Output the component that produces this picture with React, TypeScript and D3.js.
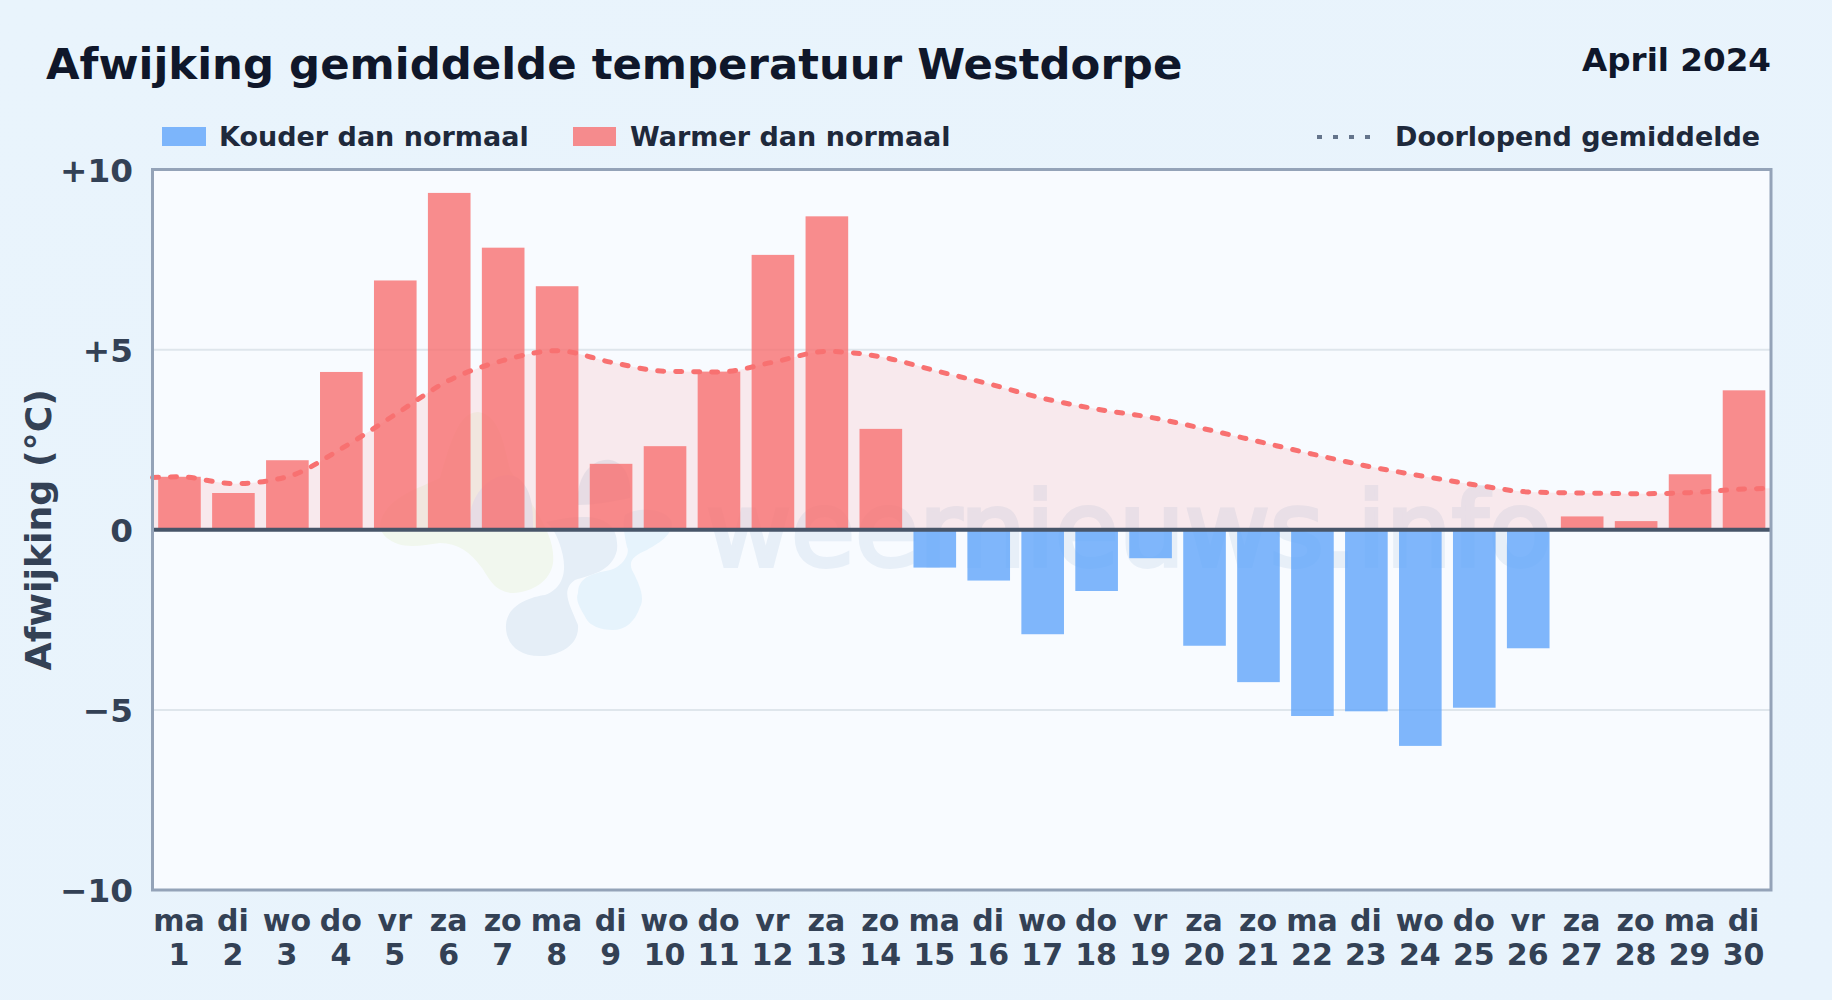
import React, { useEffect, useRef } from 'react'
import * as d3 from 'd3'

const weekdays = ['ma', 'di', 'wo', 'do', 'vr', 'za', 'zo', 'ma', 'di', 'wo', 'do', 'vr', 'za', 'zo', 'ma', 'di', 'wo', 'do', 'vr', 'za', 'zo', 'ma', 'di', 'wo', 'do', 'vr', 'za', 'zo', 'ma', 'di']
const days = d3.range(1, 31)
const anomaly = [1.47, 1.02, 1.93, 4.38, 6.92, 9.35, 7.83, 6.76, 1.83, 2.32, 4.39, 7.63, 8.7, 2.8, -1.05, -1.41, -2.9, -1.7, -0.79, -3.22, -4.23, -5.17, -5.04, -6.0, -4.94, -3.29, 0.37, 0.24, 1.54, 3.87]
const runningMean = [1.47, 1.28, 1.47, 2.25, 3.2, 4.15, 4.7, 4.97, 4.65, 4.4, 4.38, 4.65, 4.95, 4.8, 4.42, 4.05, 3.65, 3.35, 3.12, 2.8, 2.45, 2.1, 1.77, 1.5, 1.25, 1.05, 1.02, 1.0, 1.03, 1.13]
const edgeMean = [1.45, 1.15]
const yTicks = [-10, -5, 0, 5, 10]

const WIDTH = 1832
const HEIGHT = 1000
const margin = { top: 169.5, right: 61, bottom: 110, left: 152.5 }

// faint logo behind the plot
const logoBlobs: [string, string][] = [
  ['#f1f7ee', 'M380 525 C384 498 420 488 440 478 C450 445 458 412 478 412 C500 414 505 450 510 470 C535 510 556 535 553 563 C550 582 532 592 513 593 C495 592 490 580 482 568 C470 552 458 543 440 543 C425 545 410 548 398 544 C390 541 380 535 380 525 Z'],
  ['#e5eef7', 'M546 522 C590 512 620 515 617 550 C612 572 590 575 575 580 C560 590 570 605 578 625 C580 650 550 657 540 656 C515 656 505 640 506 625 C507 605 530 597 545 595 C570 585 565 560 560 545 C555 530 550 525 546 522 Z'],
  ['#e6f3fc', 'M625 515 C640 505 672 510 672 525 C670 538 655 545 647 550 C635 555 628 560 632 570 C640 585 645 598 640 607 C635 622 625 630 613 630 C600 630 590 625 587 620 C580 608 575 600 578 593 C578 585 582 580 587 577 C600 570 610 572 617 567 C625 562 630 552 627 547 C625 538 622 525 625 515 Z'],
  ['#e5ecf5', 'M470 530 C465 492 498 466 518 478 C534 490 533 515 533 530 Z'],
  ['#e5ecf5', 'M578 505 C575 480 590 458 610 460 C625 462 632 480 630 498 C610 502 595 505 578 505 Z'],
]

const tickLabel = (v: number) => (v > 0 ? `+${v}` : v < 0 ? `\u2212${-v}` : '0')

export default function App() {
  const svgRef = useRef<SVGSVGElement>(null)

  useEffect(() => {
    if (!svgRef.current) return
    const svg = d3.select(svgRef.current)
    svg.selectAll('*').remove()

    const x0 = margin.left
    const x1 = WIDTH - margin.right
    const y0 = HEIGHT - margin.bottom
    const y1 = margin.top

    const x = d3.scaleBand<number>().domain(days).range([x0, x1]).paddingInner(0.21).paddingOuter(0.105)
    const bandMid = (d: number) => (x(d) as number) + x.bandwidth() / 2
    const y = d3.scaleLinear().domain([-10, 10]).range([y0, y1])

    const defs = svg.append('defs')
    const grad = defs.append('linearGradient').attr('id', 'pageBg').attr('x1', 0).attr('y1', 0).attr('x2', 1).attr('y2', 1)
    grad.append('stop').attr('offset', '0%').attr('stop-color', '#e9f4fc')
    grad.append('stop').attr('offset', '100%').attr('stop-color', '#e8f3fc')
    defs.append('clipPath').attr('id', 'plotClip').append('rect').attr('x', x0).attr('y', y1).attr('width', x1 - x0).attr('height', y0 - y1)

    svg.append('rect').attr('width', WIDTH).attr('height', HEIGHT).attr('fill', 'url(#pageBg)')
    svg.append('rect').attr('x', x0).attr('y', y1).attr('width', x1 - x0).attr('height', y0 - y1).attr('fill', '#f8fbff')

    const font = "'DejaVu Sans', sans-serif"

    // watermark logo
    svg
      .append('g')
      .attr('clip-path', 'url(#plotClip)')
      .selectAll('path')
      .data(logoBlobs)
      .enter()
      .append('path')
      .attr('fill', (d) => d[0])
      .attr('d', (d) => d[1])

    // watermark text
    svg
      .append('text')
      .attr('x', 706)
      .attr('y', 566)
      .attr('font-family', font)
      .attr('font-size', 104)
      .attr('fill', '#e7eff8')
      .attr('stroke', '#e7eff8')
      .attr('stroke-width', 4)
      .text('weernieuws.info')

    // gridlines
    svg
      .append('g')
      .selectAll('line')
      .data(yTicks.filter((t) => t !== 0 && Math.abs(t) !== 10))
      .enter()
      .append('line')
      .attr('x1', x0)
      .attr('x2', x1)
      .attr('y1', (d) => y(d))
      .attr('y2', (d) => y(d))
      .attr('stroke', '#dfe6ec')
      .attr('stroke-width', 2)

    // running mean, with the curve carried out to the plot edges
    const linePts: [number, number][] = [
      [x0, edgeMean[0]],
      ...days.map((d, i) => [bandMid(d), runningMean[i]] as [number, number]),
      [x1, edgeMean[1]],
    ]
    const area = d3
      .area<[number, number]>()
      .x((d) => d[0])
      .y0(y(0))
      .y1((d) => y(d[1]))
      .curve(d3.curveMonotoneX)
    svg.append('path').attr('d', area(linePts)).attr('fill', '#f87171').attr('opacity', 0.13)

    // bars
    svg
      .append('g')
      .selectAll('rect')
      .data(days)
      .enter()
      .append('rect')
      .attr('x', (d) => x(d) as number)
      .attr('width', x.bandwidth())
      .attr('y', (d, i) => y(Math.max(anomaly[i], 0)))
      .attr('height', (d, i) => Math.abs(y(anomaly[i]) - y(0)))
      .attr('fill', (d, i) => (anomaly[i] < 0 ? '#60a5fa' : '#f87171'))
      .attr('opacity', 0.8)

    const line = d3
      .line<[number, number]>()
      .x((d) => d[0])
      .y((d) => y(d[1]))
      .curve(d3.curveMonotoneX)
    svg
      .append('path')
      .attr('d', line(linePts))
      .attr('fill', 'none')
      .attr('stroke', '#f87171')
      .attr('stroke-width', 5)
      .attr('stroke-linecap', 'round')
      .attr('stroke-dasharray', '6 12')

    // zero line and frame
    svg.append('line').attr('x1', x0).attr('x2', x1).attr('y1', y(0)).attr('y2', y(0)).attr('stroke', '#475569').attr('stroke-width', 4)
    svg.append('rect').attr('x', x0).attr('y', y1).attr('width', x1 - x0).attr('height', y0 - y1).attr('fill', 'none').attr('stroke', '#94a3b8').attr('stroke-width', 3)

    // y tick labels
    svg
      .append('g')
      .selectAll('text')
      .data(yTicks)
      .enter()
      .append('text')
      .attr('x', 133)
      .attr('y', (d) => y(d) + 12)
      .attr('text-anchor', 'end')
      .attr('font-family', font)
      .attr('font-weight', 700)
      .attr('font-size', 32.7)
      .attr('fill', '#334155')
      .text((d) => tickLabel(d))

    // x tick labels, weekday above day number
    const xt = svg.append('g').selectAll('g').data(days).enter().append('g')
    xt.append('text')
      .attr('x', (d) => bandMid(d) - 0.5)
      .attr('y', 931)
      .attr('text-anchor', 'middle')
      .attr('font-family', font)
      .attr('font-weight', 700)
      .attr('font-size', 30)
      .attr('fill', '#334155')
      .text((d, i) => weekdays[i])
    xt.append('text')
      .attr('x', (d) => bandMid(d) - 0.5)
      .attr('y', 965)
      .attr('text-anchor', 'middle')
      .attr('font-family', font)
      .attr('font-weight', 700)
      .attr('font-size', 30)
      .attr('fill', '#334155')
      .text((d) => d)

    // axis title
    svg
      .append('text')
      .attr('transform', `translate(51,${(y0 + y1) / 2}) rotate(-90)`)
      .attr('text-anchor', 'middle')
      .attr('font-family', font)
      .attr('font-weight', 700)
      .attr('font-size', 36.3)
      .attr('fill', '#334155')
      .text('Afwijking (°C)')

    // titles
    svg.append('text').attr('x', 46).attr('y', 79).attr('font-family', font).attr('font-weight', 700).attr('font-size', 43.4).attr('fill', '#0f172a').text('Afwijking gemiddelde temperatuur Westdorpe')
    svg.append('text').attr('x', 1771).attr('y', 71).attr('text-anchor', 'end').attr('font-family', font).attr('font-weight', 700).attr('font-size', 32.6).attr('fill', '#0f172a').text('April 2024')

    // legend
    const legendText = (tx: number, label: string) =>
      svg.append('text').attr('x', tx).attr('y', 146).attr('font-family', font).attr('font-weight', 700).attr('font-size', 27).attr('fill', '#1e293b').text(label)
    svg.append('rect').attr('x', 162).attr('y', 127).attr('width', 44).attr('height', 19).attr('fill', '#60a5fa').attr('opacity', 0.8)
    legendText(219, 'Kouder dan normaal')
    svg.append('rect').attr('x', 573).attr('y', 127).attr('width', 43).attr('height', 19).attr('fill', '#f87171').attr('opacity', 0.8)
    legendText(630, 'Warmer dan normaal')
    svg.append('line').attr('x1', 1317).attr('x2', 1376).attr('y1', 137).attr('y2', 137).attr('stroke', '#64748b').attr('stroke-width', 4).attr('stroke-dasharray', '5 11')
    legendText(1395, 'Doorlopend gemiddelde')
  }, [])

  return <svg ref={svgRef} width={WIDTH} height={HEIGHT} style={{ position: 'absolute', left: 0, top: 0, display: 'block' }} />
}
